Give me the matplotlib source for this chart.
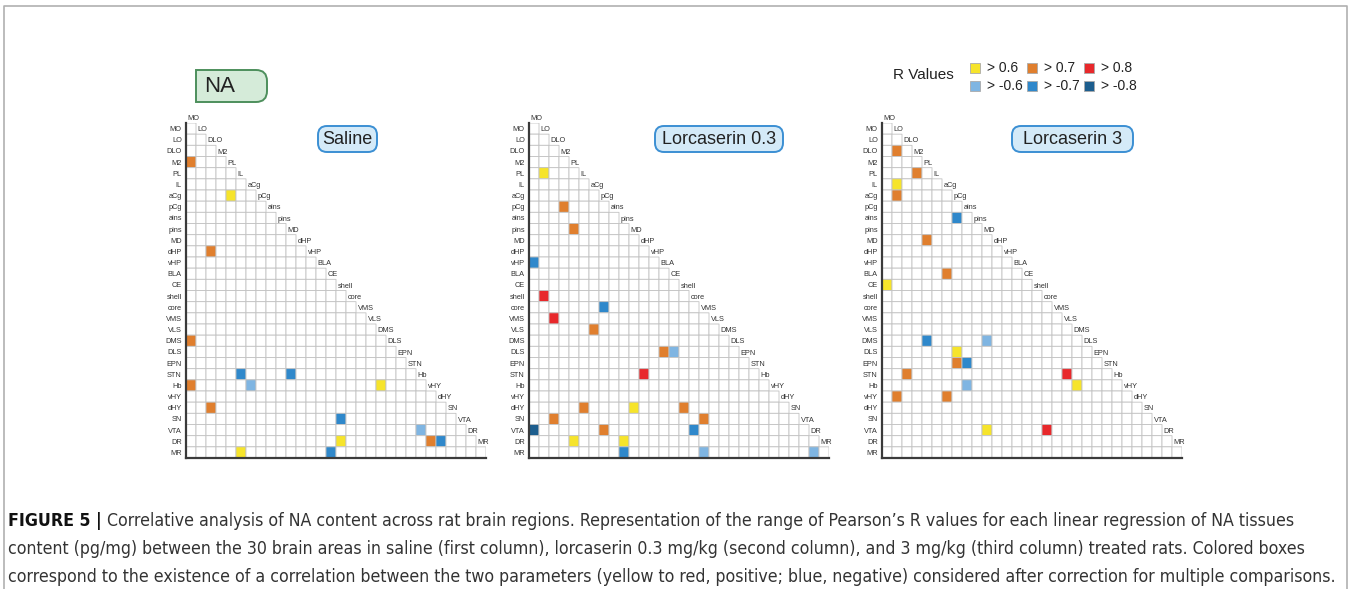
import numpy as np
import matplotlib
matplotlib.use("Agg")
import matplotlib.pyplot as plt
from matplotlib.colors import ListedColormap
from matplotlib.patches import Rectangle, FancyBboxPatch, PathPatch
from matplotlib.path import Path
from matplotlib import font_manager

# brain areas (rows / columns of the triangular matrices)
areas = ['MO', 'LO', 'DLO', 'M2', 'PL', 'IL', 'aCg', 'pCg', 'ains', 'pins',
         'MD', 'dHP', 'vHP', 'BLA', 'CE', 'shell', 'core', 'VMS', 'VLS', 'DMS',
         'DLS', 'EPN', 'STN', 'Hb', 'vHY', 'dHY', 'SN', 'VTA', 'DR', 'MR']

# R value classes
classes = ['> 0.6', '> 0.7', '> 0.8', '> -0.6', '> -0.7', '> -0.8']
class_colors = ['#F6E42B', '#E07F2E', '#E8282B', '#7FB5E2', '#2F88CB', '#1D5E8E']

# significant correlations: (row, column, class index)
saline = [('M2', 'MO', 1), ('aCg', 'PL', 0), ('dHP', 'DLO', 1), ('DMS', 'MO', 1),
          ('STN', 'IL', 4), ('STN', 'MD', 4), ('Hb', 'MO', 1), ('Hb', 'aCg', 3),
          ('Hb', 'DMS', 0), ('dHY', 'DLO', 1), ('SN', 'shell', 4), ('VTA', 'Hb', 3),
          ('DR', 'shell', 0), ('DR', 'vHY', 1), ('DR', 'dHY', 4), ('MR', 'IL', 0),
          ('MR', 'CE', 4)]
lorca_03 = [('PL', 'LO', 0), ('pCg', 'M2', 1), ('pins', 'PL', 1), ('vHP', 'MO', 4),
            ('shell', 'LO', 2), ('core', 'pCg', 4), ('VMS', 'DLO', 2), ('VLS', 'aCg', 1),
            ('DLS', 'BLA', 1), ('DLS', 'CE', 3), ('STN', 'dHP', 2), ('dHY', 'IL', 1),
            ('dHY', 'MD', 0), ('dHY', 'shell', 1), ('SN', 'DLO', 1), ('SN', 'VMS', 1),
            ('VTA', 'MO', 5), ('VTA', 'pCg', 1), ('VTA', 'core', 4), ('DR', 'PL', 0),
            ('DR', 'pins', 0), ('MR', 'pins', 4), ('MR', 'VMS', 3), ('MR', 'DR', 3)]
lorca_3 = [('DLO', 'LO', 1), ('PL', 'M2', 1), ('IL', 'LO', 0), ('aCg', 'LO', 1),
           ('ains', 'pCg', 4), ('MD', 'PL', 1), ('BLA', 'aCg', 1), ('CE', 'MO', 0),
           ('DMS', 'PL', 4), ('DMS', 'MD', 3), ('DLS', 'pCg', 0), ('EPN', 'pCg', 1),
           ('EPN', 'ains', 4), ('STN', 'DLO', 1), ('STN', 'VLS', 2), ('Hb', 'ains', 3),
           ('Hb', 'DMS', 0), ('vHY', 'LO', 1), ('vHY', 'aCg', 1), ('VTA', 'MD', 0),
           ('VTA', 'core', 2)]

panel_titles = ['Saline', 'Lorcaserin 0.3', 'Lorcaserin 3']
panel_data = [saline, lorca_03, lorca_3]

caption_bold = 'FIGURE 5 | '
caption_lines = [
    'Correlative analysis of NA content across rat brain regions. Representation of the range of Pearson\u2019s R values for each linear regression of NA tissues',
    'content (pg/mg) between the 30 brain areas in saline (first column), lorcaserin 0.3 mg/kg (second column), and 3 mg/kg (third column) treated rats. Colored boxes',
    'correspond to the existence of a correlation between the two parameters (yellow to red, positive; blue, negative) considered after correction for multiple comparisons.',
]

names = {f.name for f in font_manager.fontManager.ttflist}
base_font = 'Liberation Sans' if 'Liberation Sans' in names else 'DejaVu Sans'
plt.rcParams['font.family'] = [base_font, 'DejaVu Sans']

# look for a condensed sans for the caption
cap_reg = None
cap_bold = None
for f in font_manager.fontManager.ttflist:
    tag = (f.name + ' ' + str(f.stretch) + ' ' + f.fname).lower()
    if ('narrow' in tag or 'condensed' in tag) and 'serif' not in f.name.lower() \
            and 'mono' not in f.name.lower() and f.style == 'normal':
        w = f.weight if isinstance(f.weight, int) else 400
        if w in (400, 'normal') and cap_reg is None:
            cap_reg = font_manager.FontProperties(fname=f.fname)
        elif w >= 600 and cap_bold is None:
            cap_bold = font_manager.FontProperties(fname=f.fname)
if cap_reg is None:
    cap_reg = font_manager.FontProperties(family=base_font)
if cap_bold is None:
    cap_bold = font_manager.FontProperties(family=base_font, weight='bold')

W, H = 1350, 589
fig = plt.figure(figsize=(W / 100, H / 100), dpi=100)

cmap = ListedColormap(['white'] + class_colors)
n = len(areas)
idx = {a: i for i, a in enumerate(areas)}
panel_left = [186, 529, 882]
grid_top, grid_bottom = 123, 458

for k, (cells, title) in enumerate(zip(panel_data, panel_titles)):
    L = panel_left[k]
    ax = fig.add_axes([L / W, (H - grid_bottom) / H, 300 / W, (grid_bottom - grid_top) / H])
    ax.set_facecolor('none')
    M = np.full((n, n), np.nan)
    for i in range(n):
        M[i, :i + 1] = 0
    for r, c, cl in cells:
        M[idx[r], idx[c]] = cl + 1
    # pcolor drops masked (upper triangle) cells completely, edges included
    ax.pcolor(np.arange(n + 1), np.arange(n + 1), np.ma.masked_invalid(M),
              cmap=cmap, vmin=-0.5, vmax=len(classes) + 0.5,
              edgecolors='#c2c2c2', linewidth=0.6)
    ax.set_xlim(0, n)
    ax.set_ylim(n, 0)
    for s in ['top', 'right']:
        ax.spines[s].set_visible(False)
    for s in ['left', 'bottom']:
        ax.spines[s].set_color('#3a3a3a')
        ax.spines[s].set_linewidth(1.6)
    ax.set_xticks([])
    ax.set_yticks(np.arange(n) + 0.5)
    ax.set_yticklabels(areas, fontsize=5.3, color='#333333')
    ax.tick_params(axis='y', length=0, pad=3)
    for j, a in enumerate(areas):
        ax.text(j + 0.15, j - 0.08, a, ha='left', va='bottom', fontsize=5.3,
                color='#333333', clip_on=False)

# overlay axes in pixel coordinates for decorations
ov = fig.add_axes([0, 0, 1, 1], zorder=5)
ov.patch.set_visible(False)
ov.set_xlim(0, W)
ov.set_ylim(H, 0)
ov.axis('off')

# frame
ov.plot([4, 4, 1347, 1347], [H, 6, 6, H], color='#b0b0b0', lw=1.2)

# panel title boxes
title_boxes = [(318, 377), (655, 783), (1012, 1133)]
for (x0, x1), title in zip(title_boxes, panel_titles):
    ov.add_patch(FancyBboxPatch((x0 + 9, 126 + 9), x1 - x0 - 18, 26 - 18,
                                boxstyle='round,pad=9', fc='#d4eaf8', ec='#3b8fd3', lw=1.4))
    ov.text((x0 + x1) / 2, 140, title, ha='center', va='center', fontsize=13, color='#222222')

# NA box (square left side, rounded right side)
verts = [(196, 70), (256, 70), (267, 70), (267, 81), (267, 91), (267, 102), (256, 102),
         (196, 102), (196, 70)]
codes = [Path.MOVETO, Path.LINETO, Path.CURVE3, Path.CURVE3, Path.LINETO, Path.CURVE3,
         Path.CURVE3, Path.LINETO, Path.CLOSEPOLY]
ov.add_patch(PathPatch(Path(verts, codes), fc='#d5ebd9', ec='#4d8f5c', lw=1.4))
ov.text(220, 87, 'NA', ha='center', va='center', fontsize=16, color='#222222')

# legend
ov.text(893, 75, 'R Values', ha='left', va='center', fontsize=11, color='#222222')
for i, (lab, col) in enumerate(zip(classes, class_colors)):
    row, colpos = divmod(i, 3)
    x = 970 + 57 * colpos
    y = 68 + 18 * row
    ov.add_patch(Rectangle((x, y - 5), 10, 10, fc=col, ec='#aaaaaa', lw=0.6))
    ov.text(x + 17, y, lab, ha='left', va='center', fontsize=10, color='#222222')

# caption, fitted to line widths
fig.canvas.draw()
renderer = fig.canvas.get_renderer()
ys = [521, 549, 577]
fs = 12
t0 = ov.text(8, ys[0], caption_bold, ha='left', va='center', fontproperties=cap_bold,
             color='#111111')
t0.set_fontsize(fs)
texts = []
for line, y in zip(caption_lines, ys):
    t = ov.text(8, y, line, ha='left', va='center', fontproperties=cap_reg, color='#333333')
    t.set_fontsize(fs)
    texts.append(t)
fig.canvas.draw()
w3 = texts[2].get_window_extent(renderer).width
fs2 = fs * (1338 - 8) / w3
t0.set_fontsize(fs2)
for t in texts:
    t.set_fontsize(fs2)
fig.canvas.draw()
bw = t0.get_window_extent(renderer).width
texts[0].set_x(8 + bw)

fig.savefig('out.png', dpi=100)
